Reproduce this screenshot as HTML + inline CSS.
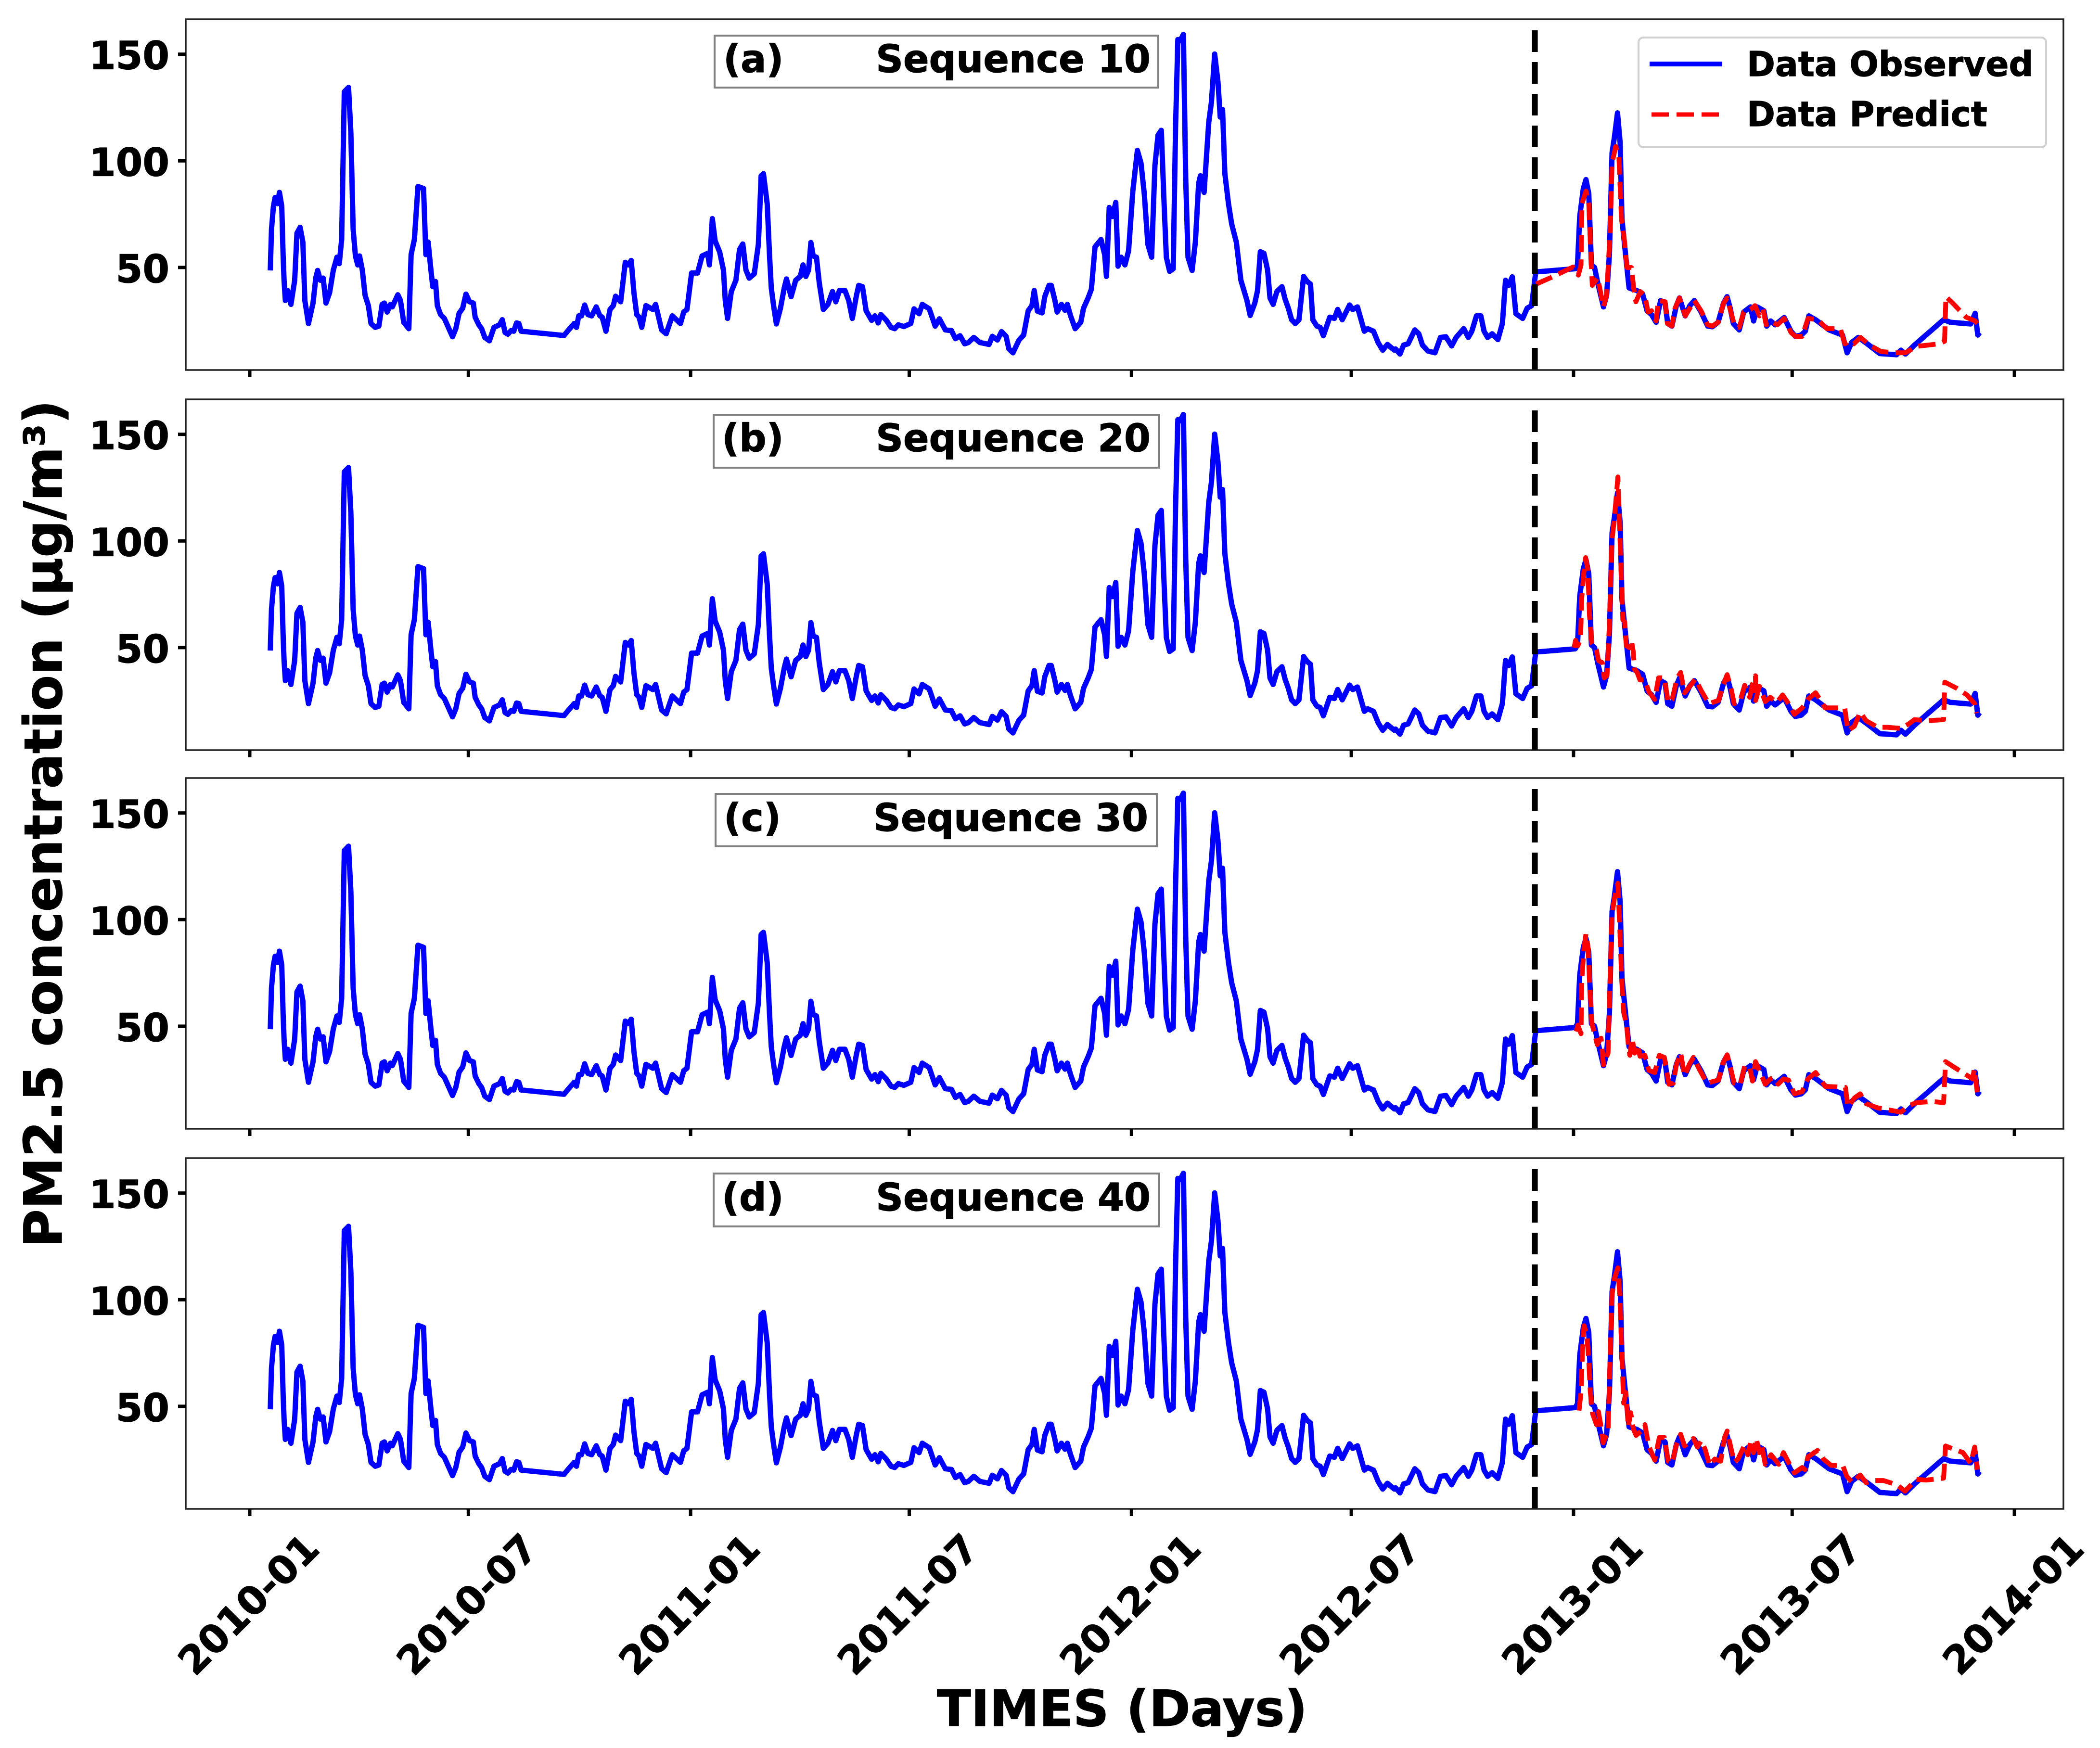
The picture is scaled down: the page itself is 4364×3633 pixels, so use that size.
<!DOCTYPE html>
<html lang="en">
<head>
<meta charset="utf-8">
<title>PM2.5 concentration: observed vs predicted</title>
<style>
html,body{margin:0;padding:0;background:#fff;}
svg{display:block;}
text{font-family:"DejaVu Sans","Liberation Sans",sans-serif;font-weight:700;fill:#000;stroke:#000;stroke-width:1.2px;}
</style>
</head>
<body>
<svg id="chart" xmlns="http://www.w3.org/2000/svg" width="4364" height="3633" viewBox="0 0 4364 3633">
<rect x="0" y="0" width="4364" height="3633" fill="#fff"/>
<g id="panels"></g>

<g>
<rect x="1485" y="74" width="922" height="108" fill="#fff" stroke="#808080" stroke-width="4"/>
<text x="1503" y="150" font-size="79">(a)</text>
<text x="2391" y="150" font-size="79" text-anchor="end">Sequence 10</text>
</g>
<g>
<rect x="1483" y="862" width="926" height="110" fill="#fff" stroke="#808080" stroke-width="4"/>
<text x="1500" y="938" font-size="79">(b)</text>
<text x="2391" y="938" font-size="79" text-anchor="end">Sequence 20</text>
</g>
<g>
<rect x="1487" y="1650" width="917" height="109" fill="#fff" stroke="#808080" stroke-width="4"/>
<text x="1504" y="1727" font-size="79">(c)</text>
<text x="2386" y="1727" font-size="79" text-anchor="end">Sequence 30</text>
</g>
<g>
<rect x="1483" y="2439" width="926" height="110" fill="#fff" stroke="#808080" stroke-width="4"/>
<text x="1500" y="2516" font-size="79">(d)</text>
<text x="2391" y="2516" font-size="79" text-anchor="end">Sequence 40</text>
</g>

<g>
<rect x="3405" y="78" width="847" height="228" rx="10" ry="10" fill="#fff" stroke="#d0d0d0" stroke-width="4"/>
<line x1="3428" y1="133" x2="3579" y2="133" stroke="#0000ff" stroke-width="10"/>
<text x="3630" y="158" font-size="71">Data Observed</text>
<line x1="3432" y1="238" x2="3575" y2="238" stroke="#ff0000" stroke-width="9" stroke-dasharray="36 16"/>
<text x="3630" y="262" font-size="71">Data Predict</text>
</g>

<text transform="translate(128,1712) rotate(-90)" text-anchor="middle" font-size="108.4">PM2.5 concentration (μg/m³)</text>
<text x="2332" y="3587" text-anchor="middle" font-size="103.5">TIMES (Days)</text>
</svg>

<script>
// Chart data: days counted from 2010-01-01, values in µg/m³.
const xTickDays = [0,181,365,546,730,912,1096,1277,1461];
const xTickLabels = ['2010-01','2010-07','2011-01','2011-07','2012-01','2012-07','2013-01','2013-07','2014-01'];
const yTickValues = [50,100,150];
const yTickLabels = ['50','100','150'];
const panelIds = ['a','b','c','d'];
const splitDay = 1064;

const observedDays = [
17,18,19.6,21,23,24.6,26.5,27.6,28.4,29.5,
31.4,34.1,37.2,39.1,41.7,44,45.6,48.6,52.4,54.7,
56.2,58.5,60.8,63.1,66.1,69.2,72.2,74.1,76.1,78.3,
81.8,83.7,85.6,87.5,89.4,90.9,93.2,95.5,98.2,100.4,
103.9,106.9,109.6,111.5,113.8,116.5,118,122.6,124.8,127.5,
131.7,133.6,136.3,139.3,143.9,145.8,147.7,150,151.5,153.8,
155.3,158,161.1,164.9,167.9,170.6,173.3,176.3,179,182,
185.1,186.6,189.7,192,194.6,198.4,202.2,206.8,209.1,211.4,
213.7,216.3,218.6,220.9,222.8,224.7,260.2,264,268.6,270.5,
272.4,274.7,277.3,280,283.1,286.9,289.9,291.8,294.9,298.3,
301,302.9,307.1,310.9,313.6,315.8,318.1,320.4,322.3,324.6,
328,333.7,336,341,344.8,349.8,354.3,356.6,359.3,362,
365.8,370.7,374.5,379.1,380.6,
383,385.3,389.1,392.2,393.7,395.6,398.7,402.5,405.5,408.2,
410.8,413.5,417.7,421.1,423.4,425.3,428.4,430.3,431.8,433.7,
436,439.4,442.5,444.4,448.2,452,455.8,458.1,460.4,462.7,
464.6,466.5,469.2,471.5,474.9,478.7,482.5,485.2,488.2,492.8,
495.9,498.9,502.3,504.2,507.3,510.3,514.9,517.6,520.3,522.5,
527.1,530.9,534,537,541.6,547.3,550,554.2,556.8,562.6,
567.5,571,575.9,580.9,584.3,588.1,591.9,595,599.5,604.5,
612.1,614.8,619,622.4,626.2,628.5,631.9,636.9,640.7,644.5,
647.6,649.5,652.1,656,658.2,661.7,663.6,666.6,668.5,672,
675,676.9,679.6,683.4,688,690.3,694.1,696.8,699.8,704.8,
707.8,709.3,711.6,714.3,717,718.9,721.5,724.6,727.6,731.1,
734.9,737.9,740.6,743.6,746.7,749.4,752,754.7,757,758.9,
761.6,764.6,766.5,768.4,770.3,773,774.9,776.8,780.2,782.9,
785.6,787.1,790.1,794,796.2,798.9,801.6,803.5,805.4,807.3,
810.3,813,816.8,820.6,825.6,828.3,832.1,834.4,836.7,839.7,
842.7,844.7,847.3,850.4,854.6,857.2,859.9,862.6,865.6,868.7,
872.5,875.5,878.2,880.1,883.5,886.2,888.9,894.2,898,900.7,
904.5,910.6,913.3,917.1,922.8,925.5,930.4,934.2,938,941.9,947.6,
948.6,952.3,955.3,959,964.6,967.9,970.9,975.4,981.3,985.8,
990.3,995.1,998.8,1005.1,1008.9,1011.8,1015.6,1019.3,1021.9,1024.9,
1028.6,1033.4,1037.1,1039.7,1042.3,1045.3,1048.3,1053.9,1057.6,1061.3,
1064.7,1097.4,1099.3,1101.1,1104.1,1106.3,1108.6,1110.8,1113.4,1116,
1120.8,1123.4,1125.7,1127.9,1129.8,1132.4,1134.6,1136.1,1139.1,1142,
1145,1148.4,1153.2,1156.9,1160.6,1164.4,1168.1,1171.8,1174,1177.4,
1181.1,1183.7,1188.5,1192.3,1196,1201.6,1207.1,1210.9,1215.7,1220.2,
1223.1,1225.7,1228.3,1233.2,1236.9,1242.5,1245.1,1248.1,1253.6,1255.9,
1259.2,1262.9,1270.4,1276,1279.7,1284.5,1287.9,1290.8,1296.4,1302,
1307.6,1318.7,1322.5,1326.2,1331.8,1339.2,1349.6,1363.4,1367.1,1370.8,
1378.3,1402.4,1408,1424.8,1428.5,1430.7,1432.2];
const observedValues = [
48.6,67.9,78.7,82.8,79.9,85.2,78.7,56,44,34.5,
39.2,32.7,44,66.1,68.8,61.9,34.5,23.7,33.3,45.2,
48.6,44,45,33.3,38.1,48.8,54.8,51.8,63.1,132.4,
134.4,113.3,67.9,55.4,51.2,55.4,48.8,36.9,32.1,23.7,
21.9,22.5,32.7,33.3,29.1,32.7,31.5,37.2,34.5,24.3,
21.3,56,63.1,88,87,56,61.9,48.8,41,43.4,
32.1,27.9,26.1,21.3,17.5,21.3,28.5,30.9,37.5,33.9,
33.3,26.7,23.1,21.3,17.2,15.6,21.9,23.1,25.5,19.5,
18.7,20.4,20.1,24,23.7,20.1,18.1,20.7,23.7,21.9,
27.3,27.3,32.4,27.9,27.3,31.5,27.3,26.7,20.1,30.3,
32.1,36.5,33.9,52.4,51.2,53.3,38.1,27.9,26.7,21.9,
32.1,30.3,32.7,20.7,18.9,27.3,24.9,23.7,29.1,30.3,
47.4,47.4,55.4,56.6,51.2,
72.9,62.5,57.2,48.8,34.5,26.1,38.7,44,58.4,61,
48.8,45,47,60.8,93,94,79.9,56,40.4,32.1,
23.5,30.9,40.4,44.6,36.3,44,45.8,51.2,45.8,48.8,
61.7,55.4,54.8,42.8,30.3,32.7,38.7,33.9,39.2,39.2,
34.5,26.1,36.9,41.6,41,29.7,25.2,27.3,24,27.9,
25.2,21.9,21.3,23.1,22.3,23.7,30.6,28.3,32.7,30.6,
22.5,25.9,20.7,20.4,16.6,18,14.2,14.8,17.2,14.8,
13.9,17.7,16,19.9,17.7,11.8,10,16,18.3,29.7,
32.1,39.2,29.5,28.7,36.3,41.6,41.6,34.5,29.1,32.7,
29.9,32.7,27.3,21.3,24.3,30.9,35.7,39.8,59.6,63.1,
56,45.8,78.1,73.9,80.5,50.6,54.8,51.2,57.8,85.8,
104.9,99,84.6,60.8,54.8,97.8,112.1,114.3,79.9,54.8,
48.2,49.4,115.7,156.9,156.3,159.3,91.8,54.8,48.6,61.9,
89.4,93,85.2,118.1,127.6,150.1,137.2,120.5,124.1,94.2,
79.9,70.3,61.9,44,34.5,27.5,33.3,39.2,57.4,56.6,
48.8,35.7,32.7,38.7,41,35.1,30.9,25.5,23.7,25.5,
45.8,43.4,42.2,25.5,22.5,21.9,18,26.7,26.1,30.3,
25.5,32.4,30.3,31.5,20.1,21.3,20.1,14.8,11.2,13.9,11.2,
11.8,9.4,13.6,14.2,20.7,18.9,13.6,10.8,10,17.2,
17.5,13.2,17.2,21.3,17.2,20.1,27.3,27.3,20.1,17.2,
18.9,16.2,23.7,44,41.6,45.6,28.3,26.1,30.9,32.1,
47.9,49.4,51.2,73.9,87,91.2,84.6,51.2,50,42.8,
31.5,36.9,56,103.8,110.9,122.5,108.5,72.7,56,40.4,
39.8,39.2,37.5,29.7,27.9,24.3,34.5,33.3,23.7,22.5,
32.1,35.7,27.3,32.1,34.5,29.1,22.5,22.2,24.3,33.3,
36.3,30.9,23.7,20.7,29.1,31.5,24.9,31.5,29.7,22.5,
24.9,23.1,26.5,20.1,17.7,18.3,20.1,27.3,25.5,23.1,
20.7,18.3,10,14.8,17.2,14.2,9.6,9.1,11.2,9.4,
13.6,25.5,24.3,23.5,28.5,18.3,19.5];

const predictDaysA = [
1065,1077,1095.5,1100,1102.2,1103,1106.3,1108.6,1110.8,1111.5,
1116,1120.8,1123.4,1126.4,1127.9,1130.9,1133.5,1135.7,1138.3,1140.2,
1143.9,1145.8,1147.6,1151.3,1155,1157.7,1160.6,1164.4,1166.2,1171.8,
1173.7,1177.4,1180,1183.7,1188.5,1192.3,1196,1201.6,1207.1,1210.9,
1215.7,1220.2,1223.1,1225.7,1229.5,1233.2,1236.9,1242.5,1246.2,1249.9,
1252.9,1255.5,1259.2,1264.8,1270.4,1276,1279.7,1285.3,1290.1,1298.3,
1305.7,1316.9,1320.6,1324.3,1328,1333.6,1341,1350.4,1361.5,1370.8,
1380.1,1398.7,1403.2,1404.3,1409.9,1421,1428.5,1430.3];
const predictValuesA = [
42.2,45.2,50.2,46.4,51.2,79.9,85.8,79.9,50,41.6,
45.2,31.5,36.9,67.9,99,106.7,102.6,72.7,61.9,50,
50,40.4,33.9,38.7,36.9,29.1,29.7,24.9,34.5,33.9,
23.7,22.5,30.9,35.7,27.3,30.9,34.5,29.7,23.1,22.5,
24.3,33.3,35.7,30.3,22.5,21.9,29.1,30.3,32.1,27.3,
30.3,23.1,24.7,23.1,26.1,19.5,17.7,17.7,26.1,25.5,
21.3,21.3,14.2,15.4,14.2,17.2,13.6,10.6,10,10,
13,14.2,15.4,36.3,33.3,26.7,24.9,23.7];

const predictDaysB = [
1096.4,1097.7,1099.6,1101.8,1102.8,1104.7,1106,1107.9,1109.2,1111.1,
1115,1116.6,1119.8,1121.4,1123.7,1125.6,1127.8,1129.8,1132.7,1134.9,
1136.8,1138.4,1139.7,1142.3,1143.9,1145.5,1146.5,1148.7,1151,1155.1,
1158.3,1163.2,1166.4,1171.2,1174.4,1177.6,1181.8,1184.7,1187.9,1193.7,
1196.9,1201.7,1208.1,1216.1,1219.4,1223.2,1226.4,1229,1233.8,1237.7,
1241.8,1244.1,1246.6,1246.8,1249.9,1254.7,1258.9,1264.3,1269.1,1274,
1278.8,1285.2,1290,1296.4,1304.4,1310.9,1320.5,1323.1,1328.5,1333.3,
1338.2,1347.8,1355.8,1367,1373.5,1378.3,1389.5,1402.4,1403.4,1413.6,
1421.7,1428.1,1429.7];
const predictValuesB = [
49.9,53.4,50.9,53.9,73.1,86.2,92.2,86.2,65,51.9,
48.9,43.9,42.9,35.8,36.8,60,100.3,110.3,130,94.2,
63,62,50.9,49.9,53.4,47.9,39.8,38.3,34.8,34.8,
29.3,25.7,35.8,35.8,24.2,25.7,35.8,38.3,28.8,32.8,
35.3,29.8,23.7,25.2,31.8,37.3,30.8,23.7,24.7,32.3,
26.7,32.8,36.8,25.2,31.8,24.7,26.7,24.2,27.8,23.7,
18.7,21.7,25.7,28.8,21.7,21.7,21.7,11.1,13.1,19.7,
15.7,12.6,12.6,12.1,14.2,16.2,15.7,16.2,33.8,30.8,
27.8,23.7,19.2];

const predictDaysC = [
1098.3,1099.6,1102.2,1102.8,1104.7,1106.3,1107.9,1109.2,1111.1,1113.4,
1115.6,1118.8,1120.8,1124.6,1126.2,1127.8,1129.8,1132.7,1134.3,1135.9,
1137.5,1140,1141.3,1142.6,1144.5,1146.5,1149,1151,1155.1,1158.3,
1163.2,1167,1171.2,1175,1178.6,1181.1,1184.7,1187.9,1192.1,1195.3,
1200.1,1206.5,1216.1,1219.4,1223.2,1226.4,1229,1233.8,1237.7,1241.8,
1244.1,1246.6,1249.9,1254.7,1258.9,1262.1,1265.3,1269.8,1274,1278.8,
1285.2,1290,1296.4,1304.4,1312.5,1321.1,1323.1,1328.5,1333.3,1338.2,
1347.8,1362.3,1367,1373.5,1379.9,1392.7,1402.4,1404,1413.6,1426.5,
1427.7,1430.3];
const predictValuesC = [
47.5,50.5,46.5,71.6,86.7,93.3,87.8,71.6,51.5,46.5,
41.4,44.4,31.9,37.4,71.6,101.9,109.9,117,95.8,71.6,
56.5,50.5,41.4,36.4,44.4,37.4,41.4,35.9,36.4,29.3,
28.3,36.4,35.4,22.8,23.3,31.9,37.4,26.8,32.4,35.4,
29.8,23.3,24.8,32.4,36.6,29.3,23.3,22.3,31.4,30.9,
24.3,33.4,29.3,22.8,25.3,25.8,22.8,25.3,24.8,18.3,
19.3,25.3,28.3,21.8,21.6,21.3,12.2,16.3,18.3,13.7,
11.7,10.2,9.7,12.7,14.2,14.7,14.2,33.4,29.9,25.3,
29.9,18.8];

const predictDaysD = [
1100.5,1102.2,1103.4,1104.7,1107,1108.6,1109.9,1111.8,1115,1116.6,
1118.2,1120.5,1124.6,1126.2,1127.8,1129.8,1132.7,1134.3,1135.9,1137.5,
1139.4,1141.3,1143.3,1145.5,1147.8,1151.9,1155.1,1158.3,1163.2,1167,
1171.2,1174.4,1177.6,1180.8,1184.7,1187.9,1192.1,1195.3,1198.5,1201.7,
1204.9,1208.8,1212.9,1217.8,1221,1223.2,1226.4,1229,1232.2,1237.7,
1240.2,1242.8,1245,1247.3,1249.9,1251.5,1254.7,1259.5,1265.9,1269.8,
1274,1278.8,1285.2,1287.7,1290,1298,1302.8,1309.3,1318.9,1322.1,
1326.9,1333.3,1338.2,1344.6,1352.6,1363.8,1370.3,1379.9,1387.9,1402.4,
1404,1418.4,1424.9,1428.1,1430.3];
const predictValuesD = [
48,56.5,75.7,87.8,83.7,71.6,56.5,46.5,41.4,47.5,
42.4,32.9,38.4,71.6,101.9,109.9,114.9,101.9,76.7,51.5,
56.5,40.4,47,39.4,36.4,38.4,41.4,31.4,24.8,35.4,
35.4,24.3,23.3,31.4,36.9,31.4,33.4,34.9,30.9,33.9,
29.9,22.3,25.3,24.3,35.4,38.4,30.3,23.8,25.3,31.9,
27.3,33.9,28.3,34.9,28.3,32.4,22.8,27.3,22.8,28.3,
23.8,18.8,21.3,20.3,26.3,29.3,25.3,22.3,22.3,17.3,
14.2,17.8,14.2,15.2,15.2,13.2,10.2,15.8,15.4,16.3,
31.4,28.3,23.3,30.9,20.3];

const predictDays = [predictDaysA,predictDaysB,predictDaysC,predictDaysD];
const predictValues = [predictValuesA,predictValuesB,predictValuesC,predictValuesD];

// Layout
const SVGNS = 'http://www.w3.org/2000/svg';
const panelTops = [40,830,1617,2407];
const panelHeight = 729;
const axisLeft = 386;
const axisRight = 4288;
const dayOrigin = 519;
const pxPerDay = 2.51;
const valueTop = 166.4;
const pxPerValue = 4.432;

function xScale(day){ return dayOrigin + day * pxPerDay; }
function yScale(value, top){ return top + (valueTop - value) * pxPerValue; }
function make(tag, attrs, parent){
  const node = document.createElementNS(SVGNS, tag);
  for (const k in attrs) node.setAttribute(k, attrs[k]);
  parent.appendChild(node);
  return node;
}
function pathFrom(days, values, top){
  const n = Math.min(days.length, values.length);
  let d = '';
  for (let i = 0; i < n; i++) {
    d += (i ? 'L' : 'M') + xScale(days[i]).toFixed(1) + ' ' + yScale(values[i], top).toFixed(1);
  }
  return d;
}

const root = document.getElementById('panels');
panelIds.forEach(function(id, p){
  const top = panelTops[p];
  const bottom = top + panelHeight;

  const g = make('g', {}, root);
  
  

  const frame = make('rect', {x: axisLeft, y: top, width: axisRight - axisLeft, height: panelHeight, fill: '#fff', stroke: '#222', 'stroke-width': 3.5}, g);
  
  

  yTickValues.forEach(function(v, i){
    const y = yScale(v, top);
    const tick = make('line', {x1: axisLeft - 16, x2: axisLeft, y1: y, y2: y, stroke: '#000', 'stroke-width': 7}, g);
    
    
    const label = make('text', {x: 352, y: y + 31, 'text-anchor': 'end', 'font-size': 80}, g);
    label.textContent = yTickLabels[i];
    
    
  });

  xTickDays.forEach(function(day, i){
    const x = xScale(day);
    const tick = make('line', {x1: x, x2: x, y1: bottom, y2: bottom + 15, stroke: '#000', 'stroke-width': 7}, g);
    
    
  });

  const observed = make('path', {d: pathFrom(observedDays, observedValues, top), fill: 'none', stroke: '#0000ff', 'stroke-width': 11, 'stroke-linejoin': 'round', 'stroke-linecap': 'butt'}, g);
  
  

  const predict = make('path', {d: pathFrom(predictDays[p], predictValues[p], top), fill: 'none', stroke: '#ff0000', 'stroke-width': 10, 'stroke-linejoin': 'round', 'stroke-dasharray': '36 15'}, g);
  
  

  const splitX = xScale(splitDay);
  const split = make('line', {x1: splitX, x2: splitX, y1: top + 23, y2: bottom, stroke: '#000', 'stroke-width': 12, 'stroke-dasharray': '45 21'}, g);
  
  
});

xTickDays.forEach(function(day, i){
  const x = xScale(day);
  const label = make('text', {transform: 'translate(' + (x - 3) + ',3334) rotate(-45)', y: 29, 'text-anchor': 'middle', 'font-size': 81}, root);
  label.textContent = xTickLabels[i];
  
  
});
</script>
</body>
</html>
